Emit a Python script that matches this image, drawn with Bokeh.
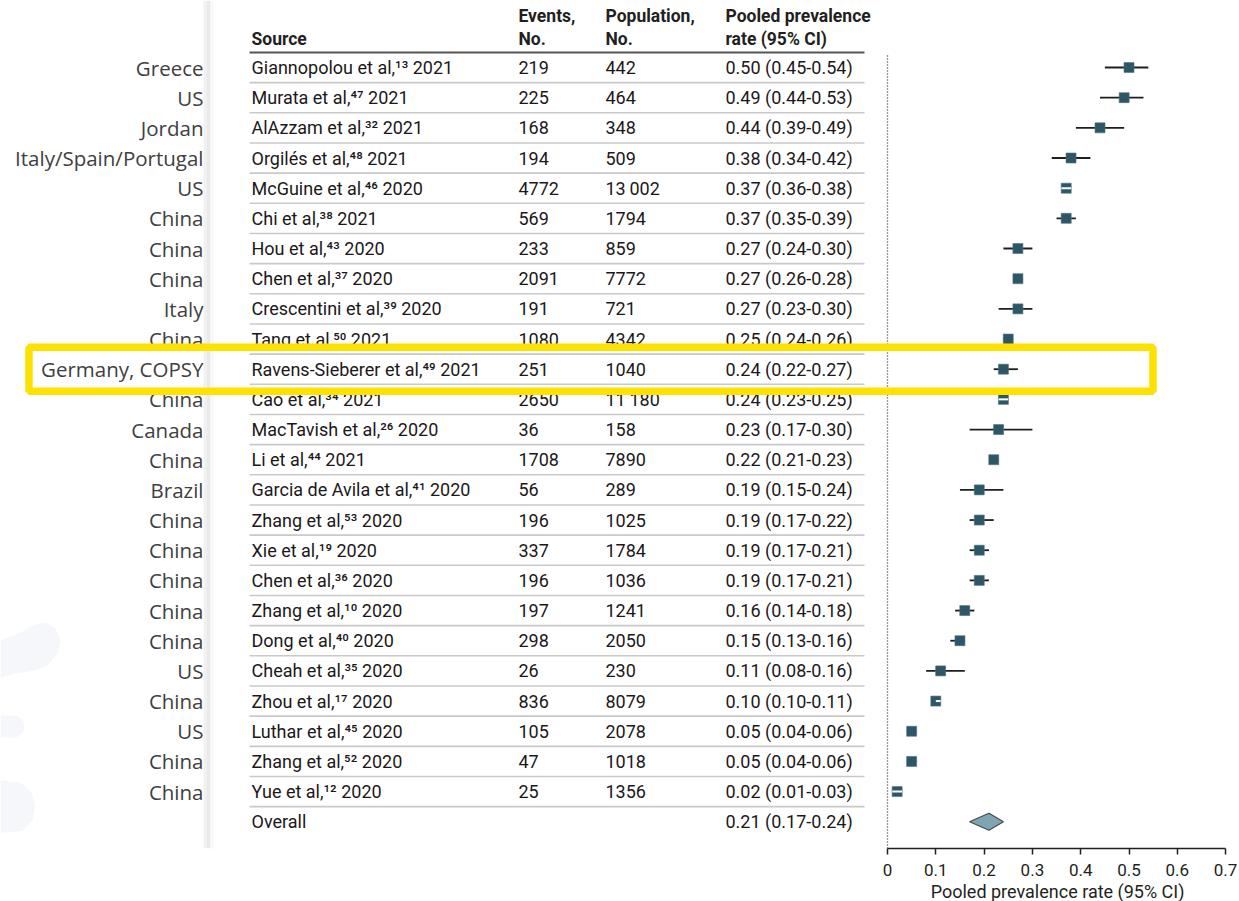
from bokeh.plotting import figure
from bokeh.models import ColumnDataSource, Range1d, FixedTicker, Title
from bokeh.core.properties import value
from bokeh.embed import file_html
from bokeh.resources import INLINE

# ---- study data -----------------------------------------------------------
countries = ["Greece", "US", "Jordan", "Italy/Spain/Portugal", "US", "China",
             "China", "China", "Italy", "China", "Germany, COPSY", "China",
             "Canada", "China", "Brazil", "China", "China", "China", "China",
             "China", "US", "China", "US", "China", "China"]
authors = ["Giannopolou", "Murata", "AlAzzam", "Orgilés", "McGuine", "Chi",
           "Hou", "Chen", "Crescentini", "Tang", "Ravens-Sieberer", "Cao",
           "MacTavish", "Li", "Garcia de Avila", "Zhang", "Xie", "Chen",
           "Zhang", "Dong", "Cheah", "Zhou", "Luthar", "Zhang", "Yue"]
refs = [13, 47, 32, 48, 46, 38, 43, 37, 39, 50, 49, 34, 26, 44, 41, 53, 19,
        36, 10, 40, 35, 17, 45, 52, 12]
years = [2021, 2021, 2021, 2021, 2020, 2021, 2020, 2020, 2020, 2021, 2021,
         2021, 2020, 2021, 2020, 2020, 2020, 2020, 2020, 2020, 2020, 2020,
         2020, 2020, 2020]
events = [219, 225, 168, 194, 4772, 569, 233, 2091, 191, 1080, 251, 2650, 36,
          1708, 56, 196, 337, 196, 197, 298, 26, 836, 105, 47, 25]
population = [442, 464, 348, 509, 13002, 1794, 859, 7772, 721, 4342, 1040,
              11180, 158, 7890, 289, 1025, 1784, 1036, 1241, 2050, 230, 8079,
              2078, 1018, 1356]
estimate = [0.50, 0.49, 0.44, 0.38, 0.37, 0.37, 0.27, 0.27, 0.27, 0.25, 0.24,
            0.24, 0.23, 0.22, 0.19, 0.19, 0.19, 0.19, 0.16, 0.15, 0.11, 0.10,
            0.05, 0.05, 0.02]
ci_low = [0.45, 0.44, 0.39, 0.34, 0.36, 0.35, 0.24, 0.26, 0.23, 0.24, 0.22,
          0.23, 0.17, 0.21, 0.15, 0.17, 0.17, 0.17, 0.14, 0.13, 0.08, 0.10,
          0.04, 0.04, 0.01]
ci_high = [0.54, 0.53, 0.49, 0.42, 0.38, 0.39, 0.30, 0.28, 0.30, 0.26, 0.27,
           0.25, 0.30, 0.23, 0.24, 0.22, 0.21, 0.21, 0.18, 0.16, 0.16, 0.11,
           0.06, 0.06, 0.03]
overall_est, overall_low, overall_high = 0.21, 0.17, 0.24
# studies whose interval is narrower than the marker (drawn as a white bar)
narrow_ci_rows = [4, 11, 21, 24]
highlight_row = 10
x_ticks = [0, 0.1, 0.2, 0.3, 0.4, 0.5, 0.6, 0.7]
tick_labels = ["0", "0.1", "0.2", "0.3", "0.4", "0.5", "0.6", "0.7"]
x_title = "Pooled prevalence rate (95% CI)"

# ---- page geometry --------------------------------------------------------
W, H = 1239, 901
FRAME_H = 848
X0_PX, PX_PER_UNIT = 887.0, 483.0     # screen position of 0 and scale
ROW0_PX, ROW_PX = 67.0, 30.17         # first row centre and row pitch


def dx(px):
    return (px - X0_PX) / PX_PER_UNIT


def dy(py):
    return (py - ROW0_PX) / ROW_PX


FONT = "Roboto"
TABLE_FONT = value(FONT)
INK = "#231f20"
SUP = str.maketrans("0123456789", "⁰¹²³⁴⁵⁶⁷⁸⁹")


def thousands(n):
    return f"{n:,}".replace(",", "\u2009") if n >= 10000 else str(n)


n = len(authors)
rows = list(range(n))
sources = [f"{a} et al,{str(r).translate(SUP)} {y}" for a, r, y in zip(authors, refs, years)]
rates = [f"{e:.2f} ({l:.2f}-{h:.2f})" for e, l, h in zip(estimate, ci_low, ci_high)]

p = figure(width=W, height=H,
           x_range=Range1d(dx(0), dx(W)), y_range=Range1d(dy(FRAME_H), dy(0)),
           output_backend="svg", toolbar_location=None, y_axis_location=None,
           min_border_left=0, min_border_right=0, min_border_top=0,
           min_border_bottom=H - FRAME_H, outline_line_color=None,
           background_fill_color="white", border_fill_color="white")
p.grid.visible = False

# faint decorative shapes on the left margin
blobs_x = [[0, 20, 35, 45, 55, 60, 58, 48, 35, 15, 0],
           [0, 16, 22, 24, 22, 16, 0],
           [0, 20, 30, 35, 32, 22, 10, 0]]
blobs_y = [[640, 632, 624, 622, 628, 640, 652, 664, 670, 673, 677],
           [715, 715, 719, 726, 733, 737, 737],
           [780, 782, 790, 805, 820, 830, 832, 832]]
p.patches([[dx(v) for v in xs] for xs in blobs_x],
          [[dy(v) for v in ys] for ys in blobs_y],
          fill_color="#f6f7fa", line_color=None)

# shaded edge of the table panel
p.quad(left=dx(203), right=dx(206), bottom=dy(FRAME_H), top=dy(0),
       fill_color="#f1f1f1", line_color=None)
p.quad(left=dx(206), right=dx(210), bottom=dy(FRAME_H), top=dy(0),
       fill_color="#e9e9e9", line_color=None)
p.quad(left=dx(210), right=dx(213), bottom=dy(FRAME_H), top=dy(0),
       fill_color="#f8f8f8", line_color=None)

# table rules
p.segment(x0=dx(249), x1=dx(864), y0=[r + 0.5 for r in rows],
          y1=[r + 0.5 for r in rows], line_color="#c9c9c9", line_width=1.6)
p.segment(x0=dx(249), x1=dx(864), y0=-0.5, y1=-0.5,
          line_color="#555555", line_width=2)

# column headers
hdr = dict(text_font=TABLE_FONT, text_font_size="17.5px", text_font_style="bold",
           text_color=INK, text_baseline="middle", text_align="left")
p.text(x=[dx(251)], y=[dy(38)], text=["Source"], **hdr)
p.text(x=[dx(518)] * 2, y=[dy(15), dy(38)], text=["Events,", "No."], **hdr)
p.text(x=[dx(605)] * 2, y=[dy(15), dy(38)], text=["Population,", "No."], **hdr)
p.text(x=[dx(725)] * 2, y=[dy(15), dy(38)],
       text=["Pooled prevalence", "rate (95% CI)"], **hdr)

# table body
src = ColumnDataSource(dict(
    row=rows, country=countries, source=sources,
    events=[str(v) for v in events],
    population=[thousands(v) for v in population],
    rate=rates, est=estimate, lo=ci_low, hi=ci_high))
cell = dict(source=src, y="row", text_font=TABLE_FONT, text_font_size="18px",
            text_color="#1c1819", text_baseline="middle", text_align="left")
p.text(x=dx(251), text="source", **cell)
p.text(x=dx(518), text="events", **cell)
p.text(x=dx(605), text="population", **cell)
p.text(x=dx(725), text="rate", **cell)
p.text(x=dx(203), y="row", text="country", source=src,
       text_font=value("Open Sans"), text_font_size="20.5px",
       text_color="#404040", text_baseline="middle", text_align="right")

p.text(x=[dx(251), dx(725)], y=[n, n],
       text=["Overall", f"{overall_est:.2f} ({overall_low:.2f}-{overall_high:.2f})"],
       text_font=TABLE_FONT, text_font_size="18px", text_color="#1c1819",
       text_baseline="middle", text_align="left")

# forest plot
p.segment(x0=0, x1=0, y0=dy(55), y1=dy(FRAME_H), line_color="#333333",
          line_width=1.3, line_dash="1 2")
p.segment(x0="lo", x1="hi", y0="row", y1="row", source=src,
          line_color="#1e1e1e", line_width=1.8)
p.scatter(x="est", y="row", source=src, marker="square", size=10,
          fill_color="#2d5766", line_color="#4f7482", line_width=0.6)
p.segment(x0=[ci_low[i] for i in narrow_ci_rows],
          x1=[ci_high[i] for i in narrow_ci_rows],
          y0=narrow_ci_rows, y1=narrow_ci_rows, line_color="white", line_width=2)

half_h = 8.5 / ROW_PX
p.patch([overall_low, overall_est, overall_high, overall_est],
        [n, n - half_h, n, n + half_h],
        fill_color="#7ea5b3", line_color="#4a4a4a", line_width=1.2)

# highlight frame around one study
hr = highlight_row
p.quad(left=dx(28.5), right=dx(1152.5), top=hr - 0.73, bottom=hr + 0.73,
       fill_color=None, line_color="#ffe100", line_width=7.5)

# x axis, limited to the forest-plot columns
ax = p.xaxis[0]
ax.bounds = (x_ticks[0], x_ticks[-1])
ax.ticker = FixedTicker(ticks=x_ticks)
ax.major_label_overrides = {t: s for t, s in zip(x_ticks, tick_labels)}
ax.minor_tick_line_color = None
ax.major_tick_in = 0
ax.major_tick_out = 6
ax.axis_line_color = INK
ax.axis_line_width = 1.5
ax.major_tick_line_color = INK
ax.major_tick_line_width = 1.5
ax.major_label_text_font = FONT
ax.major_label_text_font_size = "17px"
ax.major_label_text_color = INK
ax.major_label_standoff = 9

# axis title set under the right-hand forest-plot axis
p.add_layout(Title(text=x_title, align="right", offset=55, standoff=0,
                   text_font=FONT, text_font_size="18px",
                   text_font_style="normal", text_color=INK), "below")

open("out.html", "w").write(file_html(p, INLINE))
